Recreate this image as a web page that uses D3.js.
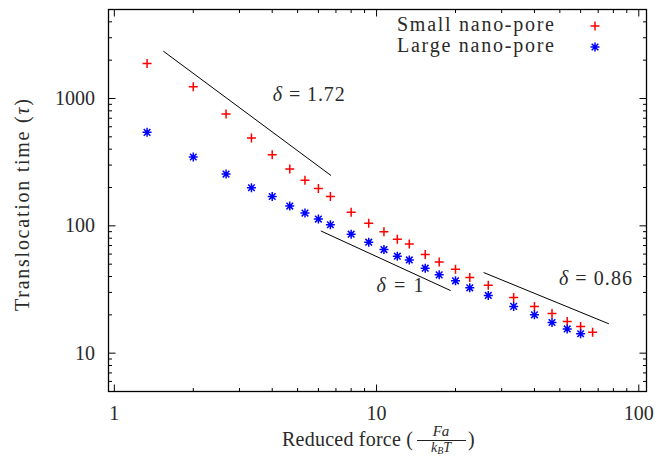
<!DOCTYPE html>
<html lang="en">
<head>
<meta charset="UTF-8">
<title>Translocation time vs reduced force</title>
<script src="https://cdnjs.cloudflare.com/ajax/libs/d3/7.8.5/d3.min.js"></script>
<style>
  body { margin: 0; background: #fff; }
  svg text { font-family: "Liberation Serif", "DejaVu Serif", serif; fill: #2a2a2a; }
</style>
</head>
<body>
<div id="chart"></div>
<script>
// reduced force F*a/kBT
const forces = [1.333, 2, 2.667, 3.333, 4, 4.667, 5.333, 6, 6.667, 8, 9.333, 10.67, 12, 13.33,
                15.33, 17.33, 20, 22.67, 26.67, 33.33, 40, 46.67, 53.33, 60, 66.67];
const smallPore = [1886, 1236, 755, 489, 362, 280, 228, 196, 170, 128, 105, 90, 78.5, 72,
                   59.5, 52, 45.7, 39.3, 34.2, 27.4, 23.3, 20.5, 17.7, 16.2, 14.6];
const largePore = [542, 347, 255, 199, 170, 143, 126, 113, 102, 86, 74.4, 65.1, 57.8, 54,
                   46.5, 41.2, 37, 32.6, 28.4, 23.3, 20, 17.4, 15.5, 14.2];
const seriesNames = ["Small nano-pore", "Large nano-pore"];
const xTicks = [1, 10, 100];
const yTicks = [10, 100, 1000];
// guide lines: [x1, y1, x2, y2] in data units, with their exponent labels
const slopeLines = [[1.537, 2355, 6.71, 248], [6.13, 91.2, 19.17, 31.0], [25.6, 43, 76.9, 17.0]];
const slopeLabels = ["1.72", "1", "0.86"];
const slopeLabelAt = [[4.02, 960], [10.0, 30.3], [49.6, 34.4]];

const W = 667, H = 456;
const margin = {top: 9.5, right: 20.5, bottom: 64.5, left: 108.5};

const svg = d3.select("#chart").append("svg")
    .attr("width", W).attr("height", H);
svg.append("rect").attr("width", W).attr("height", H).attr("fill", "#fff");

const x = d3.scaleLog().domain([0.95, 107]).range([margin.left, W - margin.right]);
const y = d3.scaleLog().domain([5, 5000]).range([H - margin.bottom, margin.top]);

const x0 = margin.left, x1 = W - margin.right, y0 = H - margin.bottom, y1 = margin.top;

// minor tick values (2..9 per decade)
function minors(scale) {
    const [a, b] = scale.domain();
    const out = [];
    for (let e = -1; e <= 4; e++) {
        for (let m = 2; m <= 9; m++) {
            const v = m * Math.pow(10, e);
            if (v > a && v < b) out.push(v);
        }
    }
    return out;
}

const ticks = svg.append("g").attr("stroke", "#000").attr("stroke-width", 1);
const MAJ = 7, MIN = 3.5;
xTicks.forEach(v => {
    ticks.append("line").attr("x1", x(v)).attr("x2", x(v)).attr("y1", y0).attr("y2", y0 - MAJ);
    ticks.append("line").attr("x1", x(v)).attr("x2", x(v)).attr("y1", y1).attr("y2", y1 + MAJ);
});
minors(x).forEach(v => {
    ticks.append("line").attr("x1", x(v)).attr("x2", x(v)).attr("y1", y0).attr("y2", y0 - MIN);
    ticks.append("line").attr("x1", x(v)).attr("x2", x(v)).attr("y1", y1).attr("y2", y1 + MIN);
});
yTicks.forEach(v => {
    ticks.append("line").attr("y1", y(v)).attr("y2", y(v)).attr("x1", x0).attr("x2", x0 + MAJ);
    ticks.append("line").attr("y1", y(v)).attr("y2", y(v)).attr("x1", x1).attr("x2", x1 - MAJ);
});
minors(y).forEach(v => {
    ticks.append("line").attr("y1", y(v)).attr("y2", y(v)).attr("x1", x0).attr("x2", x0 + MIN);
    ticks.append("line").attr("y1", y(v)).attr("y2", y(v)).attr("x1", x1).attr("x2", x1 - MIN);
});

svg.append("rect")
    .attr("x", x0).attr("y", y1).attr("width", x1 - x0).attr("height", y0 - y1)
    .attr("fill", "none").attr("stroke", "#000").attr("stroke-width", 1.3);

// tick labels
svg.append("g").selectAll("text").data(xTicks).join("text")
    .attr("x", d => x(d)).attr("y", 420)
    .attr("text-anchor", "middle").attr("font-size", 20)
    .text(d => d);
svg.append("g").selectAll("text").data(yTicks).join("text")
    .attr("x", 95).attr("y", d => y(d)).attr("dy", "0.33em")
    .attr("text-anchor", "end").attr("font-size", 20)
    .text(d => d);

// axis titles
const yl = svg.append("text")
    .attr("transform", `translate(29,205) rotate(-90)`)
    .attr("text-anchor", "middle").attr("font-size", 20)
    .attr("textLength", 212).attr("lengthAdjust", "spacing");
yl.append("tspan").text("Translocation time (");
yl.append("tspan").attr("font-style", "italic").text("τ");
yl.append("tspan").text(")");

const xl = svg.append("g");
xl.append("text").attr("x", 282).attr("y", 446)
    .attr("font-size", 20).attr("textLength", 131).attr("lengthAdjust", "spacing")
    .text("Reduced force (");
xl.append("text").attr("x", 441).attr("y", 436).attr("text-anchor", "middle")
    .attr("font-size", 15).attr("font-style", "italic").text("Fa");
xl.append("line").attr("x1", 417).attr("x2", 466).attr("y1", 440.5).attr("y2", 440.5)
    .attr("stroke", "#222").attr("stroke-width", 1.2);
const den = xl.append("text").attr("x", 441).attr("y", 452).attr("text-anchor", "middle")
    .attr("font-size", 14).attr("font-style", "italic");
den.append("tspan").text("k");
den.append("tspan").attr("font-size", 10).attr("dy", 2).text("B");
den.append("tspan").attr("dy", -2).text("T");
xl.append("text").attr("x", 468).attr("y", 446).attr("font-size", 20).text(")");

// guide lines and their labels
svg.append("g").selectAll("line").data(slopeLines).join("line")
    .attr("x1", d => x(d[0])).attr("y1", d => y(d[1]))
    .attr("x2", d => x(d[2])).attr("y2", d => y(d[3]))
    .attr("stroke", "#000").attr("stroke-width", 1);
const labelWidths = [72, 47, 73];
slopeLabels.forEach((s, i) => {
    const t = svg.append("text")
        .attr("x", x(slopeLabelAt[i][0])).attr("y", y(slopeLabelAt[i][1]))
        .attr("font-size", 20)
        .attr("textLength", labelWidths[i]).attr("lengthAdjust", "spacing");
    t.append("tspan").attr("font-style", "italic").text("δ");
    t.append("tspan").text(" = " + s);
});

// markers
const plusPath = "M-4.5,0H4.5M0,-4.5V4.5";
const starPath = "M-4.5,0H4.5M0,-4.5V4.5M-3.3,-3.3L3.3,3.3M-3.3,3.3L3.3,-3.3";

svg.append("g").selectAll("path").data(smallPore).join("path")
    .attr("transform", (d, i) => `translate(${x(forces[i])},${y(d)})`)
    .attr("d", plusPath).attr("stroke", "#ff0000").attr("stroke-width", 1.5).attr("fill", "none");
svg.append("g").selectAll("path").data(largePore).join("path")
    .attr("transform", (d, i) => `translate(${x(forces[i])},${y(d)})`)
    .attr("d", starPath).attr("stroke", "#0000ff").attr("stroke-width", 1.5).attr("fill", "none");

// legend
const legend = svg.append("g");
const legendPaths = [plusPath, starPath];
const legendColors = ["#ff0000", "#0000ff"];
seriesNames.forEach((name, i) => {
    legend.append("text").attr("x", 554).attr("y", 31 + i * 21)
        .attr("text-anchor", "end").attr("font-size", 20)
        .attr("textLength", 157).attr("lengthAdjust", "spacing")
        .text(name);
    legend.append("path").attr("transform", `translate(595,${26 + i * 21})`)
        .attr("d", legendPaths[i]).attr("stroke", legendColors[i])
        .attr("stroke-width", 1.5).attr("fill", "none");
});
</script>
</body>
</html>
